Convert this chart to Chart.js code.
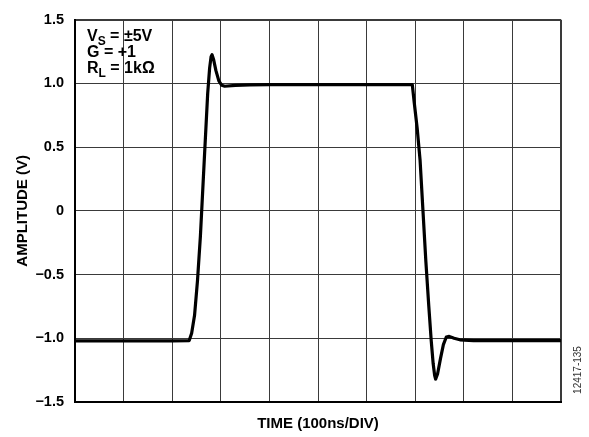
<!DOCTYPE html>
<html>
<head>
<meta charset="utf-8">
<script src="https://cdn.jsdelivr.net/npm/chart.js@4.4.0/dist/chart.umd.min.js"></script>
<style>
  html, body { margin: 0; padding: 0; background: #fff; }
  #wrap { width: 589px; height: 437px; position: relative; }
</style>
</head>
<body>
<div id="wrap"><canvas id="scope"></canvas></div>
<script>
// time in divisions (100ns/DIV), amplitude in volts
const timeDiv = [0, 1, 2, 2.35, 2.40, 2.46, 2.52, 2.58, 2.66, 2.73, 2.77, 2.80, 2.82, 2.85, 2.90, 2.96, 3.02, 3.08, 3.3, 3.6, 4.0, 5.0, 6.0, 6.94,
                 6.98, 7.04, 7.10, 7.16, 7.22, 7.28, 7.33, 7.37, 7.40, 7.42, 7.46, 7.52, 7.58, 7.64, 7.70, 7.80, 7.92, 8.2, 9.0, 10];
const amplitude = [-1.02, -1.02, -1.02, -1.018, -0.96, -0.82, -0.55, -0.2, 0.4, 0.92, 1.12, 1.21, 1.225, 1.19, 1.1, 1.02, 0.985, 0.978, 0.985, 0.988, 0.99, 0.99, 0.99, 0.99,
                   0.85, 0.65, 0.4, 0.0, -0.4, -0.75, -1.02, -1.2, -1.29, -1.32, -1.28, -1.16, -1.05, -0.99, -0.985, -1.0, -1.012, -1.018, -1.018, -1.018];
const yTicks = [1.5, 1.0, 0.5, 0, -0.5, -1.0, -1.5];
const notes = [['V', 'S', ' = \u00B15V'], ['G = +1', '', ''], ['R', 'L', ' = 1k\u03A9']];

const points = timeDiv.map((t, i) => ({ x: t, y: amplitude[i] }));
const FONT = 'Arial, "Liberation Sans", sans-serif';

const notePlugin = {
    id: 'notes',
    afterDraw(chart) {
        const ctx = chart.ctx;
        const left = chart.chartArea.left + 12;
        let base = chart.chartArea.top + 21.5;
        ctx.save();
        ctx.fillStyle = '#000';
        ctx.textBaseline = 'alphabetic';
        notes.forEach(n => {
            let x = left;
            ctx.font = 'bold 16px ' + FONT;
            ctx.fillText(n[0], x, base);
            x += ctx.measureText(n[0]).width;
            if (n[1]) {
                ctx.font = 'bold 12px ' + FONT;
                ctx.fillText(n[1], x, base + 4);
                x += ctx.measureText(n[1]).width;
            }
            ctx.font = 'bold 16px ' + FONT;
            ctx.fillText(n[2], x, base);
            base += 15.7;
        });
        // figure number
        ctx.translate(581, 370);
        ctx.rotate(-Math.PI / 2);
        ctx.font = '10px ' + FONT;
        ctx.fillStyle = '#333';
        ctx.textAlign = 'center';
        ctx.fillText('12417-135', 0, 0);
        ctx.restore();
    }
};

new Chart(document.getElementById('scope'), {
    type: 'line',
    data: {
        datasets: [{
            data: points,
            borderColor: '#000',
            borderWidth: 3.2,
            pointRadius: 0,
            tension: 0,
            borderJoinStyle: 'round',
            fill: false
        }]
    },
    options: {
        responsive: true,
        maintainAspectRatio: false,
        animation: false,
        layout: { padding: { top: 16, right: 28, left: 0, bottom: 0 } },
        plugins: { legend: { display: false }, tooltip: { enabled: false } },
        scales: {
            x: {
                type: 'linear',
                min: 0,
                max: 10,
                ticks: { stepSize: 1, display: false },
                grid: {
                    drawTicks: false,
                    color: '#3a3a3a',
                    lineWidth: c => (c.tick && (c.tick.value === 0 || c.tick.value === 10)) ? 2 : 1
                },
                border: { color: '#000', width: 2 },
                title: {
                    display: true,
                    text: 'TIME (100ns/DIV)',
                    color: '#000',
                    font: { family: FONT, size: 15, weight: 'bold' },
                    padding: { top: 11 }
                },
                afterFit: s => { s.height = 35; }
            },
            y: {
                min: -1.5,
                max: 1.5,
                afterBuildTicks: s => { s.ticks = yTicks.map(v => ({ value: v })); },
                ticks: {
                    color: '#000',
                    padding: 11,
                    font: { family: FONT, size: 14.5, weight: 'bold' },
                    callback: v => v === 0 ? '0' : v.toFixed(1).replace('-', '\u2212')
                },
                grid: {
                    drawTicks: false,
                    color: '#3a3a3a',
                    lineWidth: c => (c.tick && (c.tick.value === 1.5 || c.tick.value === -1.5)) ? 2 : 1
                },
                border: { color: '#000', width: 2 },
                title: {
                    display: true,
                    text: 'AMPLITUDE (V)',
                    color: '#000',
                    font: { family: FONT, size: 15, weight: 'bold' },
                    padding: { top: 14, bottom: 0 }
                },
                afterFit: s => { s.width = 75; }
            }
        }
    },
    plugins: [notePlugin]
});
</script>
</body>
</html>
